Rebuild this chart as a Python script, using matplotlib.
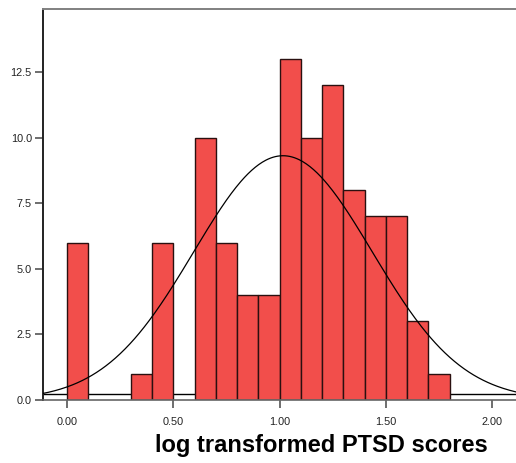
import numpy as np
import matplotlib
matplotlib.use("Agg")
import matplotlib.pyplot as plt

plt.rcParams["font.family"] = ["Liberation Sans", "DejaVu Sans"]

# histogram bins (width 0.1) and counts
bin_left = [0.0, 0.3, 0.4, 0.6, 0.7, 0.8, 0.9, 1.0, 1.1, 1.2, 1.3, 1.4, 1.5, 1.6, 1.7]
counts = [6, 1, 6, 10, 6, 4, 4, 13, 10, 12, 8, 7, 7, 3, 1]
bin_width = 0.1

# normal curve parameters
mean = 1.016
sd = 0.42
n = sum(counts)

xticks = [0.0, 0.5, 1.0, 1.5, 2.0]
xtick_labels = ["0.00", "0.50", "1.00", "1.50", "2.00"]
yticks = [0.0, 2.5, 5.0, 7.5, 10.0, 12.5]
ytick_labels = ["0.0", "2.5", "5.0", "7.5", "10.0", "12.5"]

fig = plt.figure(figsize=(5.16, 4.63), dpi=100)
ax = fig.add_axes([0.0833, 0.136, 0.9167, 0.8446])

ax.axhline(0.22, color="black", linewidth=1, zorder=1)
ax.bar(bin_left, counts, width=bin_width, align="edge", color="#F24E4B",
       edgecolor="#2a1010", linewidth=1, zorder=2)

xs = np.linspace(-0.12, 2.12, 400)
curve = n * bin_width / (sd * np.sqrt(2 * np.pi)) * np.exp(-0.5 * ((xs - mean) / sd) ** 2)
ax.plot(xs, curve, color="black", linewidth=0.9, zorder=3)

ax.set_xlim(-0.113, 2.112)
ax.set_ylim(0, 14.9)
ax.set_xticks(xticks)
ax.set_xticklabels(xtick_labels)
ax.set_yticks(yticks)
ax.set_yticklabels(ytick_labels)
ax.tick_params(axis="both", direction="out", length=6, width=1.2, color="#555555",
               labelsize=7.8, labelcolor="#222222")
ax.tick_params(axis="x", pad=6)
ax.tick_params(axis="y", pad=2)

ax.spines["right"].set_visible(False)
ax.spines["left"].set_color("#222222")
ax.spines["left"].set_linewidth(1.4)
ax.spines["top"].set_color("#808080")
ax.spines["top"].set_linewidth(1.4)
ax.spines["bottom"].set_color("#666666")
ax.spines["bottom"].set_linewidth(1.2)

fig.text(0.623, 0.037, "log transformed PTSD scores", fontsize=17, fontweight="bold",
         ha="center", va="center", color="black")

fig.savefig("out.png", dpi=100)
plt.close(fig)
